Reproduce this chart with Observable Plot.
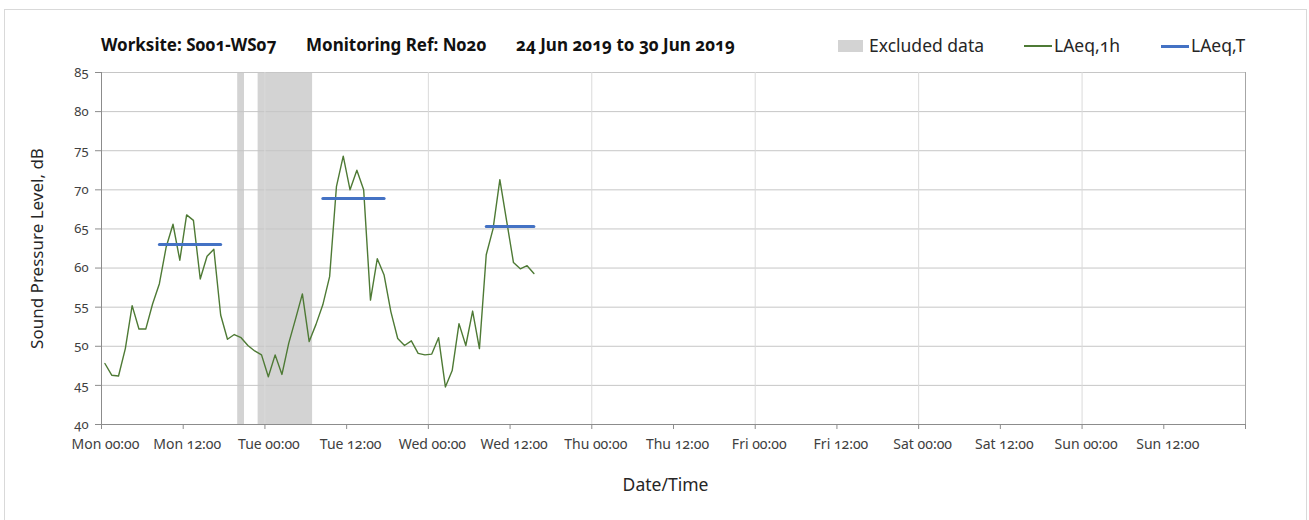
<!DOCTYPE html>
<html>
<head>
<meta charset="utf-8">
<script src="https://cdn.jsdelivr.net/npm/d3@7"></script>
<script src="https://cdn.jsdelivr.net/npm/@observablehq/plot@0.6"></script>
<style>
  html, body { margin: 0; padding: 0; background: #fff; }
  body { font-family: "Noto Sans", "Open Sans", sans-serif; font-variant-numeric: oldstyle-nums; font-feature-settings: "onum"; }
  #wrap { position: relative; width: 1309px; height: 520px; overflow: hidden; }
  #border { position: absolute; left: 4px; top: 9px; width: 1303px; height: 530px; border: 1px solid #d9d9d9; box-sizing: border-box; }
  #title { position: absolute; left: 101px; top: 33px; font-size: 17px; font-weight: bold; color: #111; white-space: pre; }
  #title span { position: absolute; top: 0; white-space: pre; }
  .leg { position: absolute; top: 33px; font-size: 17.5px; color: #262626; white-space: nowrap; }
  .sw { position: absolute; }
  #chart { position: absolute; left: 0; top: 0; }
</style>
</head>
<body>
<div id="wrap">
  <div id="border"></div>
  <div id="chart"></div>
  <div id="title"></div>
  <div id="legend"></div>
</div>
<script>
// ---- data ----
const titleParts = ["Worksite: S001-WS07", "Monitoring Ref: N020", "24 Jun 2019 to 30 Jun 2019"];
const legendLabels = ["Excluded data", "LAeq,1h", "LAeq,T"];
const seriesStart = "2019-06-24T00:30:00Z";   // first hourly value (mid-hour)
const laeq1h = [47.8,46.3,46.2,49.7,55.2,52.2,52.2,55.4,58.0,62.7,
                65.6,61.0,66.8,66.1,58.6,61.5,62.4,54.0,50.9,51.5,
                51.1,50.1,49.4,48.9,46.1,48.9,46.4,50.4,53.5,56.7,
                50.6,52.8,55.3,58.9,70.4,74.3,70.0,72.5,70.0,55.9,
                61.2,59.1,54.4,51.0,50.1,50.7,49.1,48.9,49.0,51.1,
                44.8,46.9,52.9,50.1,54.5,49.7,61.7,65.0,71.3,66.0,
                60.7,59.9,60.3,59.3];
const laeqTStart = ["2019-06-24T08:30:00Z", "2019-06-25T08:30:00Z", "2019-06-26T08:30:00Z"];
const laeqTEnd   = ["2019-06-24T17:30:00Z", "2019-06-25T17:30:00Z", "2019-06-26T15:30:00Z"];
const laeqTValue = [63.0, 68.9, 65.3];
const excludedStart = ["2019-06-24T20:00:00Z", "2019-06-24T23:00:00Z"];
const excludedEnd   = ["2019-06-24T21:00:00Z", "2019-06-25T07:00:00Z"];
const xDomain = ["2019-06-24T00:00:00Z", "2019-07-01T00:00:00Z"];
const yTicks = [40,45,50,55,60,65,70,75,80,85];
const yLabel = "Sound Pressure Level, dB";
const xLabel = "Date/Time";

// ---- build tables ----
const t0 = new Date(seriesStart).getTime();
const lineData = laeq1h.map((v, i) => ({t: new Date(t0 + i * 3600e3), v}));
const tData = [];
laeqTValue.forEach((v, i) => {
  tData.push({t: new Date(laeqTStart[i]), v, k: i});
  tData.push({t: new Date(laeqTEnd[i]), v, k: i});
});
const excl = excludedStart.map((s, i) => ({x1: new Date(s), x2: new Date(excludedEnd[i])}));
const dom = xDomain.map(d => new Date(d));
const halfDays = d3.utcHour.every(12).range(dom[0], new Date(dom[1].getTime() + 1));
const labelTicks = halfDays.filter(d => +d !== +dom[1]);
const days = d3.utcDay.range(dom[0], new Date(dom[1].getTime() + 1));
const innerDays = days.slice(1, -1);
const fmt = d3.utcFormat("%a %H:%M");

const FONT = '"Noto Sans", "Open Sans", sans-serif';
const plot = Plot.plot({
  width: 1309, height: 520,
  marginLeft: 101, marginRight: 64, marginTop: 72, marginBottom: 96,
  style: {fontFamily: FONT, background: "transparent"},
  x: {type: "utc", domain: dom},
  y: {domain: [40, 85]},
  marks: [
    Plot.rect(excl, {x1: "x1", x2: "x2", fill: "#d3d3d3"}),
    Plot.ruleY(yTicks.slice(1), {stroke: "#c6c6c6", strokeWidth: 1}),
    Plot.ruleX(innerDays, {stroke: "#dadada", strokeWidth: 1}),
    Plot.axisY({ticks: yTicks, tickSize: 6, tickPadding: 7, tickFormat: d => String(d), fontSize: 13, stroke: "#8c8c8c", color: "#404040", label: null}),
    // tick marks every 12 h (including the end of the week)
    Plot.axisX({ticks: halfDays, tickSize: 5, tickFormat: () => "", stroke: "#8c8c8c", label: null}),
    // tick labels, nudged like the original
    Plot.axisX({ticks: labelTicks, tickSize: 0, tickPadding: 15, dx: 4, tickFormat: fmt, fontSize: 14, color: "#404040", label: null}),
    Plot.ruleX([dom[0]], {stroke: "#8c8c8c", y1: 40, y2: 85}),
    Plot.ruleX([dom[1]], {stroke: "#a6a6a6", y1: 40, y2: 85}),
    Plot.ruleY([40], {stroke: "#8c8c8c"}),
    Plot.line(lineData, {x: "t", y: "v", stroke: "#4e7a35", strokeWidth: 1.4}),
    Plot.line(tData, {x: "t", y: "v", z: "k", stroke: "#4472c4", strokeWidth: 3}),
    Plot.text([yLabel], {frameAnchor: "left", textAnchor: "middle", rotate: -90, dx: -64, fontSize: 17, fill: "#262626"}),
    Plot.text([xLabel], {frameAnchor: "bottom", dx: -8, dy: 66, fontSize: 17.5, fill: "#262626"})
  ]
});
plot.querySelectorAll("g, text, tspan").forEach(el => {
  el.removeAttribute("font-variant");
  el.style.setProperty("font-variant-numeric", "oldstyle-nums", "important");
  el.style.setProperty("font-feature-settings", '"onum" 1', "important");
});
document.getElementById("chart").appendChild(plot);

// title
const title = document.getElementById("title");
const titleX = [0, 205, 415];
titleParts.forEach((p, i) => {
  const s = document.createElement("span");
  s.textContent = p; s.style.left = titleX[i] + "px";
  title.appendChild(s);
});

// legend
const legend = document.getElementById("legend");
const legItems = [
  {x: 838, type: "rect", color: "#d3d3d3", label: legendLabels[0], tx: 869},
  {x: 1024, type: "line", color: "#4e7a35", w: 1.4, label: legendLabels[1], tx: 1054},
  {x: 1161, type: "line", color: "#4472c4", w: 3, label: legendLabels[2], tx: 1191}
];
legItems.forEach(it => {
  const sw = document.createElement("div");
  sw.className = "sw";
  sw.style.left = it.x + "px";
  if (it.type === "rect") {
    sw.style.top = "40px"; sw.style.width = "25px"; sw.style.height = "12px"; sw.style.background = it.color;
  } else {
    sw.style.top = (46 - it.w / 2) + "px"; sw.style.width = "28px"; sw.style.height = it.w + "px"; sw.style.background = it.color;
  }
  legend.appendChild(sw);
  const tx = document.createElement("div");
  tx.className = "leg"; tx.style.left = it.tx + "px"; tx.textContent = it.label;
  legend.appendChild(tx);
});
</script>
</body>
</html>
